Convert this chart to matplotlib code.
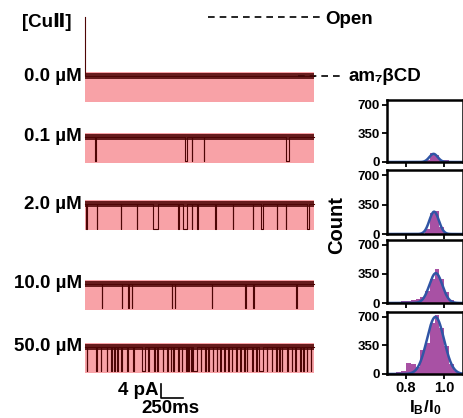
import matplotlib
matplotlib.use('Agg')
import matplotlib.pyplot as plt
import numpy as np

plt.rcParams['font.family'] = ['Liberation Sans', 'DejaVu Sans']
plt.rcParams['font.weight'] = 'bold'
plt.rcParams['mathtext.fontset'] = 'custom'
plt.rcParams['mathtext.rm'] = 'Liberation Sans:bold'
plt.rcParams['mathtext.it'] = 'Liberation Sans:bold'
plt.rcParams['mathtext.bf'] = 'Liberation Sans:bold'

# ---- data: current traces ----
conc_labels = ['0.0 µM', '0.1 µM', '2.0 µM', '10.0 µM', '50.0 µM']
trace_len = 2600          # ms
open_rel = 17.0           # pA above the am7bCD blocked level
cu_depth = 7.0            # pA below the blocked level (Cu-bound state)

# (start ms, duration ms) of Cu binding events
events_00 = []
events_01 = [(108, 6), (1136, 22), (1208, 6), (1348, 6), (2278, 40)]
events_20 = [(6, 6), (127, 6), (400, 6), (583, 5), (765, 60), (1056, 6),
             (1113, 38), (1208, 6), (1272, 6), (1474, 6), (1675, 6),
             (1903, 6), (1997, 20), (2176, 6), (2281, 6), (2517, 30)]
events_100 = [(184, 5), (412, 6), (487, 5), (526, 5), (981, 6), (1018, 5),
              (1436, 6), (1815, 6), (1909, 5), (2395, 6)]
events_500 = [(13, 8), (119, 8), (173, 8), (241, 8), (290, 8), (328, 10),
              (362, 8), (400, 10), (476, 8), (544, 8), (639, 38), (715, 8),
              (779, 8), (817, 10), (878, 8), (931, 8), (969, 8), (999, 8),
              (1056, 10), (1094, 8), (1144, 8), (1170, 8), (1200, 8),
              (1227, 38), (1310, 8), (1360, 10), (1398, 8), (1447, 8),
              (1493, 8), (1531, 10), (1576, 8), (1625, 8), (1663, 8),
              (1709, 10), (1758, 8), (1804, 8), (1834, 8), (1891, 10),
              (1940, 8), (1978, 38), (2061, 8), (2118, 8), (2168, 8),
              (2206, 8), (2232, 8), (2289, 10), (2346, 8), (2384, 8),
              (2441, 8), (2479, 10), (2517, 8), (2562, 8)]
all_events = [events_00, events_01, events_20, events_100, events_500]

# ---- data: I_B/I_0 histograms (bins of 0.025 from 0.70 to 1.10) ----
bin_edges = np.arange(0.70, 1.1001, 0.025)
counts_01 = [0, 0, 0, 0, 0, 0, 0, 3, 30, 105, 85, 25, 20, 15, 0, 0]
counts_20 = [0, 0, 0, 0, 0, 0, 0, 3, 55, 245, 270, 80, 12, 3, 0, 0]
counts_100 = [5, 8, 12, 20, 28, 35, 45, 75, 150, 290, 410, 290, 130, 40, 10, 3]
counts_500 = [8, 15, 22, 40, 135, 125, 85, 290, 380, 620, 725, 560, 345, 125, 35, 10]
all_counts = [counts_01, counts_20, counts_100, counts_500]
# gaussian fits: amplitude, mean, sigma
fits = [(100, 0.945, 0.022), (265, 0.948, 0.025),
        (360, 0.957, 0.034), (700, 0.955, 0.045)]

W, H = 464, 418
fig = plt.figure(figsize=(W / 100, H / 100), dpi=100)


def px_box(l, t, r, b):
    return [l / W, 1 - b / H, (r - l) / W, (b - t) / H]


pink = '#f8a2a7'
trace_col = '#4e0505'

# ---- traces ----
ax = fig.add_axes(px_box(85.5, 5, 314, 385))
ax.set_xlim(0, trace_len)
ax.set_ylim(-108.57, 0)
ax.axis('off')
row_off = [-20.3, -37.7, -56.9, -79.7, -97.7]

for i, (off, evs) in enumerate(zip(row_off, all_events)):
    ax.fill_between([0, trace_len], off - cu_depth - 0.4, off + 1.2,
                    color=pink, lw=0, zorder=1)
    ax.fill_between([0, trace_len], off - 0.85, off + 0.85,
                    color=trace_col, alpha=0.85, lw=0, zorder=3)
    xs, ys = [0], [0]
    if i == 0:
        xs, ys = [0, 0], [open_rel, 0]
    for s, d in evs:
        xs += [s, s, s + d, s + d]
        ys += [0, -cu_depth, -cu_depth, 0]
    xs.append(trace_len)
    ys.append(0)
    ax.plot(xs, np.array(ys) + off, color=trace_col, lw=0.8, zorder=2,
            clip_on=False)
    ax.text(-0.0153, off, conc_labels[i], transform=ax.get_yaxis_transform(),
            ha='right', va='center', fontsize=13.5, fontweight='bold')

ax.text(-0.28, -4.9, '[CuⅡ]', transform=ax.get_yaxis_transform(),
        ha='left', va='center', fontsize=13.5, fontweight='bold')

# open and blocked level markers
ax.plot([1394, 2670], [row_off[0] + open_rel] * 2, color='black', lw=1.2,
        ls=(0, (4, 3)), clip_on=False)
ax.text(2730, row_off[0] + open_rel - 0.9, 'Open', ha='left', va='center',
        fontsize=13.5, fontweight='bold')
ax.plot([2418, 2896], [row_off[0]] * 2, color='black', lw=1.2,
        ls=(0, (4, 3)), clip_on=False)
ax.text(2990, row_off[0], 'am₇βCD', ha='left', va='center',
        fontsize=13.5, fontweight='bold')

# scale bar
sb_x, sb_y = 856, -112.3
ax.plot([sb_x, sb_x, sb_x + 250], [sb_y + 4, sb_y, sb_y], color='black',
        lw=1.2, clip_on=False)
ax.text(sb_x - 25, sb_y + 2.3, '4 pA', ha='right', va='center',
        fontsize=13.5, fontweight='bold')
ax.text(sb_x + 110, sb_y - 0.5, '250ms', ha='center', va='top',
        fontsize=13.5, fontweight='bold')

# ---- histograms ----
tops = [100, 170, 240, 312]
bottoms = [162, 234, 303, 374]
centers = (bin_edges[:-1] + bin_edges[1:]) / 2
xf = np.linspace(0.7, 1.1, 300)
for j in range(4):
    hx = fig.add_axes(px_box(387, tops[j], 463, bottoms[j]))
    hx.bar(centers, all_counts[j], width=0.025, color='#a4479f', lw=0,
           alpha=0.95)
    a, mu, sg = fits[j]
    hx.plot(xf, a * np.exp(-(xf - mu) ** 2 / (2 * sg ** 2)), color='#3055a5',
            lw=1.8)
    hx.set_xlim(0.7, 1.1)
    hx.set_ylim(0, 760)
    hx.set_yticks([0, 350, 700])
    hx.set_xticks([0.8, 1.0])
    for sp in hx.spines.values():
        sp.set_linewidth(1.8)
    hx.tick_params(width=1.3, length=3.5, labelsize=9.5, pad=1.5)
    if j < 3:
        hx.set_xticklabels([])
    else:
        hx.set_xticklabels(['0.8', '1.0'], fontsize=10.5)

fig.text(337 / W, 1 - 225 / H, 'Count', rotation=90, ha='center',
         va='center', fontsize=14.5, fontweight='bold')
fig.text(425 / W, 1 - 408 / H, r'$\mathbf{I_B/I_0}$', ha='center',
         va='center', fontsize=12.5)

fig.savefig('out.png', dpi=100)
